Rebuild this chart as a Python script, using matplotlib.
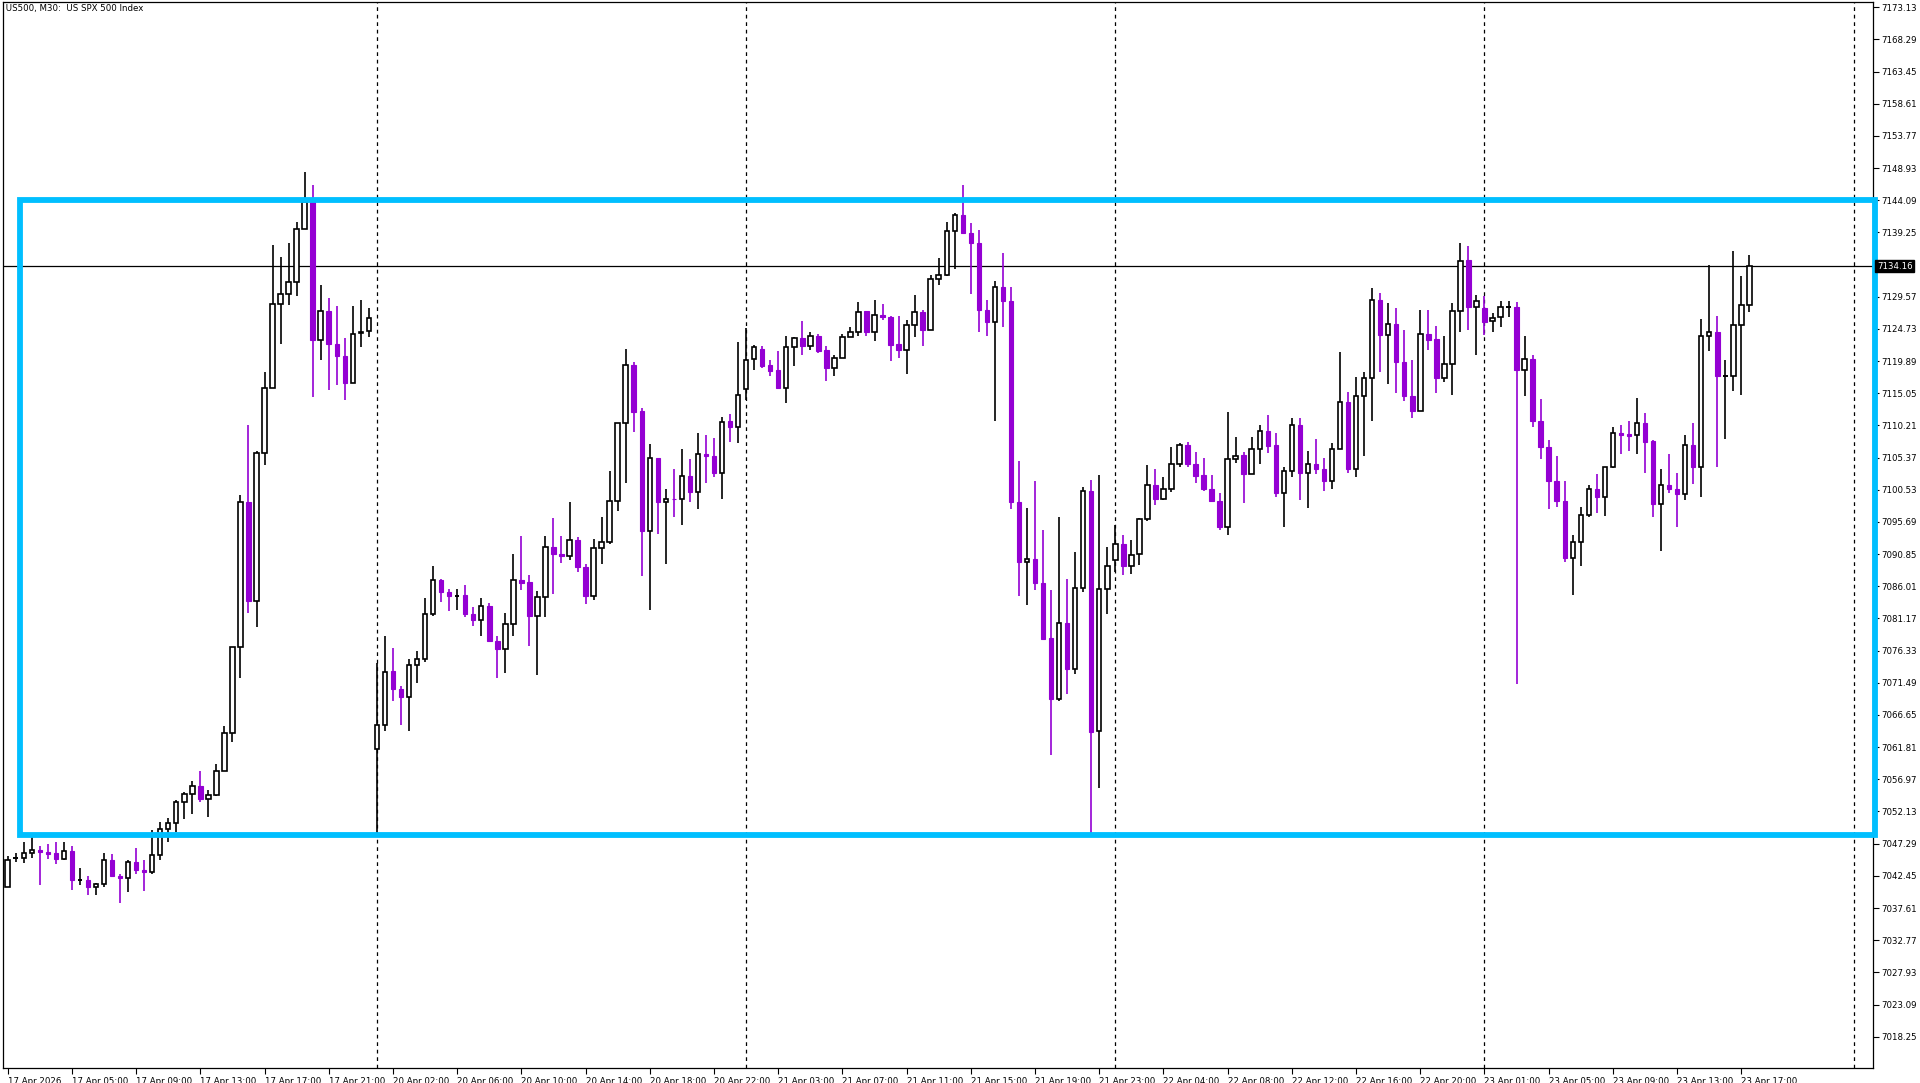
import matplotlib.pyplot as plt
from matplotlib.patches import Rectangle

# M30 candles, 17 Apr 01:00 -> 23 Apr 17:30
opens = [
    7040.8, 7045.1, 7045.2, 7045.9, 7046.4, 7046.1, 7045.9, 7045.0, 7046.2, 7041.8, 7041.8, 7040.7, 7041.2, 7044.9, 7042.5, 7042.1,
    7044.5, 7043.3, 7043.0, 7045.6, 7049.5, 7050.4, 7053.5, 7054.7, 7056.0, 7054.0, 7054.6, 7058.2, 7064.0, 7076.9, 7098.7, 7083.8,
    7106.1, 7115.9, 7128.5, 7130.0, 7131.8, 7139.7, 7143.8, 7123.1, 7127.4, 7122.4, 7120.6, 7116.6, 7124.1, 7124.4,
    7061.6, 7065.2, 7073.2, 7070.6, 7069.3, 7074.2, 7075.1, 7081.9, 7086.9, 7085.1, 7084.6, 7084.7, 7081.9, 7080.9, 7083.0, 7077.8,
    7076.5, 7080.3, 7086.9, 7086.6, 7081.5, 7084.4, 7091.9, 7090.9, 7090.6, 7093.0, 7088.9, 7084.5, 7091.7, 7092.6, 7098.9, 7110.5,
    7119.3, 7112.4, 7094.3, 7105.3, 7098.7, 7099.2, 7099.1, 7102.6, 7100.2, 7105.9, 7105.6, 7103.0, 7110.9, 7109.9,
    7115.7, 7120.2, 7121.7, 7119.3, 7118.5, 7115.8, 7122.0, 7123.4, 7122.1, 7123.7, 7121.6, 7118.8, 7120.4, 7123.5, 7124.2, 7127.4,
    7124.2, 7126.8, 7126.5, 7122.4, 7121.6, 7125.3, 7127.3, 7124.6, 7132.2, 7132.9, 7139.4, 7141.9, 7139.2, 7137.7, 7127.6, 7125.8,
    7131.0, 7128.9, 7098.7, 7089.7, 7090.1, 7086.5, 7078.2, 7069.0, 7080.5, 7073.5, 7085.8, 7100.3, 7064.3, 7085.6,
    7089.9, 7092.4, 7089.0, 7090.9, 7096.1, 7101.2, 7099.2, 7100.7, 7104.4, 7107.2, 7104.4, 7102.7, 7100.7, 7098.9, 7095.0, 7105.2,
    7105.7, 7102.9, 7106.7, 7109.4, 7107.2, 7100.0, 7103.3, 7110.3, 7103.1, 7104.4, 7103.7, 7101.8, 7106.7, 7113.7, 7103.6, 7114.7,
    7117.4, 7129.1, 7123.8, 7125.5, 7119.7, 7114.7, 7112.4, 7123.9, 7123.2, 7117.4, 7119.4, 7127.4, 7135.1, 7128.1,
    7127.9, 7125.9, 7126.5, 7128.1, 7128.1, 7118.6, 7120.2, 7110.9, 7106.9, 7101.9, 7098.9, 7090.2, 7092.7, 7096.8, 7100.7, 7099.4,
    7103.9, 7109.1, 7108.9, 7108.8, 7110.6, 7107.8, 7098.4, 7101.2, 7100.7, 7099.9, 7107.2, 7104.0, 7123.6, 7124.2, 7117.7, 7117.7,
    7125.3, 7128.4,
]
highs = [
    7045.4, 7045.9, 7047.5, 7048.4, 7046.9, 7047.3, 7047.5, 7047.5, 7046.9, 7043.6, 7042.5, 7041.4, 7045.9, 7045.7, 7042.8, 7044.9,
    7046.7, 7044.8, 7049.3, 7050.5, 7051.1, 7053.9, 7055.1, 7056.7, 7058.2, 7055.4, 7059.2, 7065.0, 7076.9, 7099.7, 7110.2, 7106.4,
    7118.2, 7137.4, 7135.6, 7137.7, 7140.8, 7148.3, 7146.4, 7131.4, 7129.4, 7128.2, 7123.3, 7128.2, 7129.1, 7127.9,
    7074.5, 7078.5, 7076.8, 7071.0, 7075.1, 7076.2, 7084.3, 7089.0, 7087.1, 7085.6, 7085.6, 7086.2, 7082.9, 7084.3, 7083.5, 7078.5,
    7082.0, 7090.8, 7093.5, 7087.7, 7085.3, 7093.6, 7096.3, 7093.5, 7098.7, 7093.4, 7089.3, 7093.1, 7096.4, 7103.3, 7110.5, 7121.7,
    7119.8, 7112.9, 7107.4, 7105.3, 7100.7, 7103.7, 7106.7, 7105.2, 7109.1, 7108.8, 7108.3, 7111.5, 7111.9, 7122.8,
    7124.9, 7122.3, 7122.1, 7120.1, 7121.4, 7123.7, 7123.5, 7125.9, 7124.2, 7124.0, 7122.2, 7120.8, 7124.0, 7125.0, 7128.8, 7127.4,
    7129.1, 7128.5, 7126.6, 7126.6, 7126.0, 7129.9, 7127.5, 7132.9, 7135.4, 7140.8, 7142.1, 7146.4, 7140.7, 7139.6, 7129.1, 7131.9,
    7136.2, 7131.1, 7104.8, 7097.8, 7101.8, 7094.5, 7085.5, 7096.5, 7087.1, 7091.2, 7101.0, 7102.0, 7102.7, 7091.9,
    7095.2, 7093.7, 7092.9, 7096.3, 7104.2, 7103.6, 7102.5, 7106.9, 7107.6, 7107.7, 7106.2, 7105.3, 7102.7, 7100.0, 7112.3, 7108.5,
    7106.2, 7108.5, 7110.3, 7111.8, 7109.0, 7103.9, 7111.4, 7111.3, 7106.4, 7108.2, 7105.3, 7107.6, 7121.2, 7115.3, 7117.5, 7118.2,
    7130.9, 7130.1, 7128.6, 7127.9, 7124.6, 7120.1, 7127.6, 7127.5, 7125.1, 7123.7, 7128.6, 7137.7, 7137.2, 7129.9,
    7129.7, 7127.1, 7128.9, 7128.9, 7128.8, 7123.6, 7120.8, 7114.2, 7108.0, 7105.6, 7101.8, 7093.7, 7098.0, 7101.3, 7102.9, 7104.0,
    7109.9, 7110.3, 7110.8, 7114.4, 7112.1, 7108.0, 7103.6, 7105.9, 7103.0, 7108.7, 7110.6, 7126.2, 7134.4, 7126.6, 7120.1, 7136.4,
    7132.7, 7135.9,
]
lows = [
    7040.7, 7044.6, 7044.4, 7045.2, 7041.0, 7045.0, 7044.3, 7044.8, 7040.3, 7041.0, 7039.5, 7039.5, 7040.7, 7042.3, 7038.3, 7040.0,
    7042.8, 7040.2, 7042.8, 7044.9, 7047.5, 7049.0, 7051.0, 7051.8, 7053.5, 7051.3, 7054.4, 7058.2, 7062.6, 7072.2, 7082.0, 7079.9,
    7104.3, 7115.9, 7122.4, 7128.3, 7129.7, 7139.7, 7114.5, 7120.1, 7115.6, 7116.3, 7114.1, 7116.6, 7122.0, 7123.5,
    7048.6, 7064.2, 7068.7, 7065.2, 7064.3, 7071.4, 7074.6, 7081.6, 7083.6, 7082.3, 7082.4, 7081.4, 7080.1, 7078.5, 7077.6, 7072.2,
    7072.9, 7078.6, 7085.4, 7077.1, 7072.7, 7081.4, 7084.8, 7089.5, 7090.0, 7088.1, 7083.4, 7083.9, 7089.3, 7092.4, 7097.3, 7101.5,
    7109.2, 7087.5, 7082.5, 7093.8, 7089.3, 7096.5, 7095.3, 7098.7, 7097.6, 7101.5, 7102.5, 7099.1, 7107.7, 7107.5,
    7114.1, 7118.6, 7118.8, 7117.7, 7115.7, 7113.6, 7119.1, 7120.8, 7121.6, 7121.1, 7116.9, 7117.6, 7120.4, 7123.5, 7123.6, 7123.7,
    7122.9, 7126.1, 7119.9, 7120.3, 7118.0, 7123.5, 7122.1, 7124.5, 7131.4, 7132.7, 7133.7, 7139.1, 7130.0, 7124.2, 7123.6, 7110.8,
    7125.0, 7097.6, 7084.5, 7083.2, 7085.4, 7078.0, 7060.7, 7068.7, 7069.8, 7072.8, 7085.2, 7048.9, 7055.7, 7081.9,
    7088.2, 7087.7, 7087.8, 7089.2, 7095.9, 7098.2, 7099.0, 7100.2, 7103.9, 7104.0, 7101.5, 7100.3, 7098.8, 7094.5, 7093.7, 7104.6,
    7098.6, 7102.9, 7104.4, 7106.1, 7099.4, 7094.9, 7102.4, 7099.0, 7097.8, 7102.9, 7100.3, 7100.6, 7106.7, 7103.0, 7102.5, 7105.6,
    7110.9, 7118.2, 7116.4, 7115.1, 7113.9, 7111.3, 7112.4, 7121.6, 7115.1, 7116.7, 7114.8, 7124.2, 7124.6, 7120.8,
    7123.8, 7124.2, 7125.0, 7126.5, 7071.3, 7114.6, 7110.0, 7105.2, 7097.6, 7098.0, 7089.7, 7084.7, 7089.1, 7096.5, 7097.1, 7096.6,
    7103.8, 7105.9, 7106.3, 7105.9, 7103.1, 7096.4, 7091.3, 7100.0, 7094.9, 7099.0, 7101.4, 7099.5, 7121.4, 7103.9, 7108.2, 7115.4,
    7114.8, 7127.3,
]
closes = [
    7044.8, 7045.1, 7045.9, 7046.4, 7046.1, 7045.7, 7045.0, 7046.2, 7041.8, 7041.8, 7040.7, 7041.2, 7044.9, 7042.5, 7042.1, 7044.5,
    7043.3, 7043.0, 7045.6, 7049.5, 7050.4, 7053.5, 7054.7, 7056.0, 7054.0, 7054.6, 7058.2, 7064.0, 7076.9, 7098.7, 7083.8, 7106.1,
    7115.9, 7128.5, 7130.0, 7131.8, 7139.7, 7143.8, 7123.1, 7127.4, 7122.4, 7120.6, 7116.6, 7123.9, 7124.3, 7126.3,
    7065.2, 7073.1, 7070.5, 7069.3, 7074.2, 7075.1, 7081.9, 7086.9, 7085.1, 7084.5, 7084.6, 7081.8, 7080.9, 7083.0, 7077.8, 7076.5,
    7080.3, 7086.9, 7086.5, 7081.5, 7084.4, 7091.9, 7090.8, 7090.6, 7093.0, 7088.9, 7084.5, 7091.7, 7092.6, 7098.9, 7110.5, 7119.3,
    7112.3, 7094.3, 7105.3, 7098.7, 7099.1, 7099.1, 7102.6, 7100.2, 7105.9, 7105.6, 7103.0, 7110.7, 7109.9, 7114.8,
    7120.0, 7122.0, 7119.1, 7118.4, 7115.8, 7122.0, 7123.4, 7122.1, 7123.7, 7121.4, 7118.8, 7120.4, 7123.5, 7124.2, 7127.3, 7124.2,
    7126.8, 7126.5, 7122.3, 7121.6, 7125.3, 7127.3, 7124.6, 7132.2, 7132.9, 7139.4, 7141.9, 7139.1, 7137.6, 7127.6, 7125.8, 7131.0,
    7128.9, 7098.7, 7089.7, 7090.1, 7086.5, 7078.1, 7069.0, 7080.5, 7073.5, 7085.8, 7100.3, 7064.1, 7085.6, 7089.0,
    7092.4, 7089.1, 7090.7, 7096.1, 7101.2, 7099.2, 7100.7, 7104.4, 7107.2, 7104.4, 7102.6, 7100.7, 7098.9, 7095.0, 7105.2, 7105.6,
    7102.9, 7106.7, 7109.4, 7107.1, 7100.0, 7103.3, 7110.3, 7103.0, 7104.4, 7103.6, 7101.8, 7106.7, 7113.7, 7103.6, 7114.7, 7117.4,
    7129.1, 7123.8, 7125.5, 7119.7, 7114.7, 7112.4, 7123.9, 7123.1, 7117.4, 7119.4, 7127.4, 7134.9, 7128.1, 7129.0,
    7125.8, 7126.3, 7128.1, 7128.1, 7118.6, 7120.2, 7110.8, 7106.9, 7101.8, 7098.9, 7090.2, 7092.7, 7096.8, 7100.7, 7099.4, 7103.9,
    7109.1, 7108.8, 7108.6, 7110.6, 7107.7, 7098.4, 7101.2, 7100.7, 7099.9, 7107.2, 7104.0, 7123.6, 7124.2, 7117.6, 7117.7, 7125.3,
    7128.4, 7134.16,
]

time_labels = [
    "17 Apr 2026", "17 Apr 05:00", "17 Apr 09:00", "17 Apr 13:00", "17 Apr 17:00", "17 Apr 21:00",
    "20 Apr 02:00", "20 Apr 06:00", "20 Apr 10:00", "20 Apr 14:00", "20 Apr 18:00", "20 Apr 22:00",
    "21 Apr 03:00", "21 Apr 07:00", "21 Apr 11:00", "21 Apr 15:00", "21 Apr 19:00", "21 Apr 23:00",
    "22 Apr 04:00", "22 Apr 08:00", "22 Apr 12:00", "22 Apr 16:00", "22 Apr 20:00",
    "23 Apr 01:00", "23 Apr 05:00", "23 Apr 09:00", "23 Apr 13:00", "23 Apr 17:00",
]
day_starts = [46, 92, 138, 184, 230]
price_ticks = [7018.25 + 4.84 * k for k in range(33)]
box_top, box_bottom = 7144.09, 7048.6
last_price = 7134.16

BULL_EDGE = "black"
BEAR = "#9400D3"
BOX = "#00BFFF"
FS = 6.2

fig = plt.figure(figsize=(19.2, 10.83), dpi=100)
ax = fig.add_axes([0.0015, 0.0136, 0.974, 0.9845])

w = 0.56
for i, (o, h, l, c) in enumerate(zip(opens, highs, lows, closes)):
    if c > o:
        ax.vlines(i, l, h, color=BULL_EDGE, lw=1.2, zorder=2)
        ax.add_patch(Rectangle((i - w / 2, o), w, c - o, facecolor="white",
                               edgecolor=BULL_EDGE, lw=1.2, zorder=3))
    elif c < o:
        ax.vlines(i, l, h, color=BEAR, lw=1.2, zorder=2)
        ax.add_patch(Rectangle((i - w / 2, c), w, o - c, facecolor=BEAR,
                               edgecolor=BEAR, lw=0.8, zorder=3))
    else:
        ax.vlines(i, l, h, color="black", lw=1.2, zorder=2)
        ax.hlines(o, i - w / 2, i + w / 2, color="black", lw=1.4, zorder=3)

for d in day_starts:
    ax.axvline(d, color="black", lw=0.9, ls=(0, (3, 3)), zorder=1)

ax.axhline(last_price, color="black", lw=0.9, zorder=1)

xmax = 232.4
ax.add_patch(Rectangle((1.5, box_bottom), xmax - 1.5 + 0.3, box_top - box_bottom, fill=False,
                       edgecolor=BOX, lw=4.2, zorder=4, clip_on=False))

ax.set_xlim(-0.6, xmax)
ax.set_ylim(7013.5, 7173.9)

ax.yaxis.tick_right()
ax.set_yticks(price_ticks)
# the tick next to the current price is covered by its label
ax.set_yticklabels(["" if abs(p - last_price) < 1 else f"{p:.2f}" for p in price_ticks], fontsize=FS)
ax.tick_params(axis="y", length=4, width=0.8, pad=2)

ax.set_xticks([8 * k for k in range(len(time_labels))])
ax.set_xticklabels(time_labels, fontsize=FS, ha="left")
ax.tick_params(axis="x", length=4, width=0.8, pad=2)

for s in ax.spines.values():
    s.set_linewidth(0.9)

ax.text(0.0, 0.998, " US500, M30:  US SPX 500 Index", transform=ax.transAxes,
        fontsize=FS, va="top", ha="left")

ax.annotate(f"{last_price:.2f}", xy=(1.0, last_price), xycoords=("axes fraction", "data"),
            xytext=(3, 0), textcoords="offset points", fontsize=FS, color="white",
            va="center", ha="left", zorder=10,
            bbox=dict(boxstyle="square,pad=0.2", fc="black", ec="black"))

fig.savefig("out.png", dpi=100)
